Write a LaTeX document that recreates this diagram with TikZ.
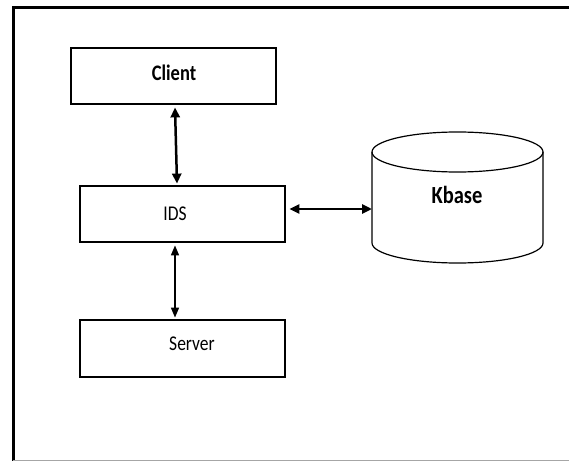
\documentclass[tikz,border=0pt]{standalone}
\usepackage{fontspec}
\setmainfont{Carlito}
\usetikzlibrary{arrows.meta}
\tikzset{
  box/.style={draw=black, line width=2.8pt, minimum width=205pt, minimum height=56pt, inner sep=0pt, fill=white},
  lbl/.style={inner sep=0pt, font=\fontsize{17.5}{20}\selectfont},
  blbl/.style={lbl, font=\fontsize{18.5}{22}\selectfont\bfseries},
  link/.style={line width=2.5pt, {Triangle[length=10pt,width=9pt]}-{Triangle[length=10pt,width=9pt]}},
  frame/.style={line width=3pt, black},
}
\newcommand{\tall}[1]{\scalebox{1}[1.2]{#1}}
\begin{document}
\begin{tikzpicture}[x=1pt, y=-1pt]
  \useasboundingbox (0,0) rectangle (569,462);
  % outer frame: top and left in black, thin grey base line
  \draw[frame] (569,8) -- (13,8) -- (13,461);
  \draw[gray!70, line width=1.6pt] (13,460.5) -- (569,460.5);

  % the three stacked boxes
  \node[box] (client) at (173.5,76) {};
  \node[box] (ids) at (182.5,214) {};
  \node[box, minimum height=57pt] (server) at (182.5,348.5) {};

  \node[blbl] (clienttxt) at (174,73) {\tall{Client}};
  \node[lbl] (idstxt) at (175,214) {\tall{IDS}};
  \node[lbl] (servertxt) at (192,344) {\tall{Server}};

  % knowledge base cylinder
  \draw[line width=1.2pt, fill=white] (372,152) -- (372,243)
     arc[start angle=180, end angle=0, x radius=85.5, y radius=20]
     -- (543,152);
  \draw[line width=1.2pt] (457.5,152) ellipse[x radius=85.5, y radius=20];
  \coordinate (kbase) at (372,209);
  \node[blbl, font=\fontsize{20.5}{24}\selectfont\bfseries] (kbtxt) at (457,195) {\tall{Kbase}};

  % connectors
  \draw[link] ([xshift=1.5pt,yshift=-2pt]client.south) -- ([xshift=-5.5pt,yshift=1pt]ids.north);
  \draw[line width=1.6pt, {Triangle[length=10pt,width=8pt]}-{Triangle[length=10pt,width=8pt]}]
     ([xshift=-7.5pt,yshift=-2pt]ids.south) -- ([xshift=-7.5pt,yshift=1pt]server.north);
  \draw[link] ([xshift=3pt,yshift=5pt]ids.east) -- (kbase);
\end{tikzpicture}
\end{document}
